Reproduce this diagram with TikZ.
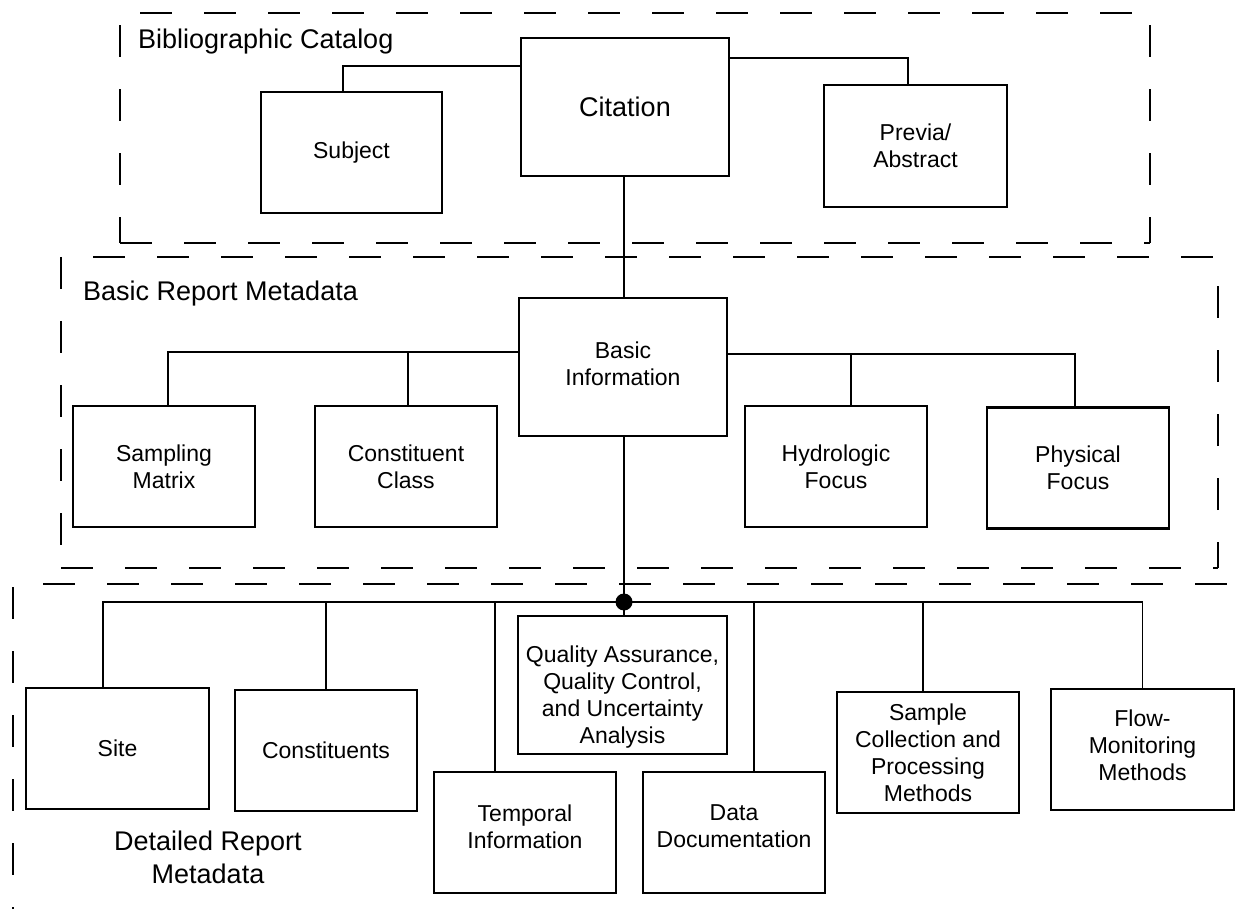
\documentclass[tikz,border=0pt]{standalone}
\usepackage{fontspec}
\setmainfont{Liberation Sans}
\begin{document}
\begin{tikzpicture}[x=1pt,y=-1pt,
  box/.style={draw, line width=2.2pt, minimum width=182pt, minimum height=121pt, inner sep=0pt, align=center, font=\fontsize{23}{27}\selectfont},
  bigbox/.style={box, minimum width=208pt, minimum height=138pt},
  conn/.style={line width=1.8pt},
  frame/.style={line width=1.6pt, dash pattern=on 32pt off 32pt},
  title/.style={font=\fontsize{27}{33}\selectfont, inner sep=0pt, align=center}]
\useasboundingbox (0,0) rectangle (1248,909);
\clip (0,0) rectangle (1248,909);

% frames
\draw[frame, dash phase=44pt] (120,13) -- (1150,13);
\draw[frame, dash phase=6pt] (120,243) -- (120,13);
\draw[frame] (120,243) -- (1150,243);
\draw[frame, dash phase=6pt] (1150,243) -- (1150,13);

\draw[frame, dash phase=32pt] (61,257) -- (1218,257);
\draw[frame] (61,257) -- (61,568);
\draw[frame] (61,568) -- (1218,568);
\draw[frame, dash phase=6pt] (1218,568) -- (1218,257);

\draw[frame, dash phase=34pt] (13,584) -- (1262,584);
\draw[frame, dash phase=61pt] (13,584) -- (13,960);

% titles
\node[title, anchor=base west] (tbib) at (138,49) {Bibliographic Catalog};
\node[title, anchor=base west] (tbasic) at (83,301) {Basic Report Metadata};
\node[title] (tdet) at (208,857) {Detailed Report\\Metadata};

% nodes
\node[bigbox, font=\fontsize{27}{33}\selectfont] (cit) at (625,107) {Citation};
\node[box, minimum width=181pt] (subj) at (351.5,152.5) {Subject};
\node[box, minimum width=183pt, minimum height=122pt] (prev) at (915.5,146) {Previa/\\Abstract};

\node[bigbox] (basic) at (623,367) {Basic\\Information\\[-21pt]\mbox{}};
\node[box] (samp) at (164,466.5) {Sampling\\Matrix};
\node[box] (cons) at (406,466.5) {Constituent\\Class};
\node[box] (hydro) at (836,466.5) {Hydrologic\\Focus};
\node[box] (phys) at (1078,468) {Physical\\Focus};

\coordinate (dot) at (624,602);
\node[bigbox, minimum width=209pt] (qa) at (622.5,685) {\mbox{}\\[13pt]Quality Assurance,\\Quality Control,\\and Uncertainty\\Analysis};
\node[box, minimum width=183pt] (site) at (117.5,748.5) {Site};
\node[box] (constit) at (326,750.5) {Constituents};
\node[box] (temp) at (525,832.5) {Temporal\\Information\\[-15pt]\mbox{}};
\node[box] (ddoc) at (734,832.5) {Data\\Documentation\\[-15pt]\mbox{}};
\node[box] (samc) at (928,752.5) {Sample\\Collection and\\Processing\\Methods};
\node[box, minimum width=183pt] (flow) at (1142.5,749.5) {Flow-\\Monitoring\\Methods\\[-18pt]\mbox{}};

\coordinate (bl) at ([yshift=15pt]basic.west);
\coordinate (br) at ([yshift=13pt]basic.east);

% connectors top
\draw[conn] ([yshift=41pt]cit.west) -| ([xshift=-8.5pt]subj.north);
\draw[conn] ([yshift=49pt]cit.east) -| ([xshift=-7.5pt]prev.north);
\draw[conn] ([xshift=-1pt]cit.south) -- ([xshift=1pt]basic.north);

% connectors middle
\draw[conn] (bl) -| ([xshift=4pt]samp.north);
\draw[conn] ([xshift=2pt]cons.north) -- ([xshift=2pt]cons.north |- bl);
\draw[conn] (br) -| ([xshift=-3pt]phys.north);
\draw[conn] ([xshift=15pt]hydro.north) -- ([xshift=15pt]hydro.north |- br);

% connectors bottom
\draw[conn] ([xshift=1pt]basic.south) -- (dot) -- (dot |- qa.north);
\draw[conn] ([xshift=-14.5pt]site.north) |- (dot) -| (flow.north);
\draw[conn] (constit.north) -- (constit.north |- dot);
\draw[conn] ([xshift=-30pt]temp.north) -- ([xshift=-30pt]temp.north |- dot);
\draw[conn] ([xshift=20pt]ddoc.north) -- ([xshift=20pt]ddoc.north |- dot);
\draw[conn] ([xshift=-5pt]samc.north) -- ([xshift=-5pt]samc.north |- dot);
\fill (dot) circle (8.5pt);
\end{tikzpicture}
\end{document}
